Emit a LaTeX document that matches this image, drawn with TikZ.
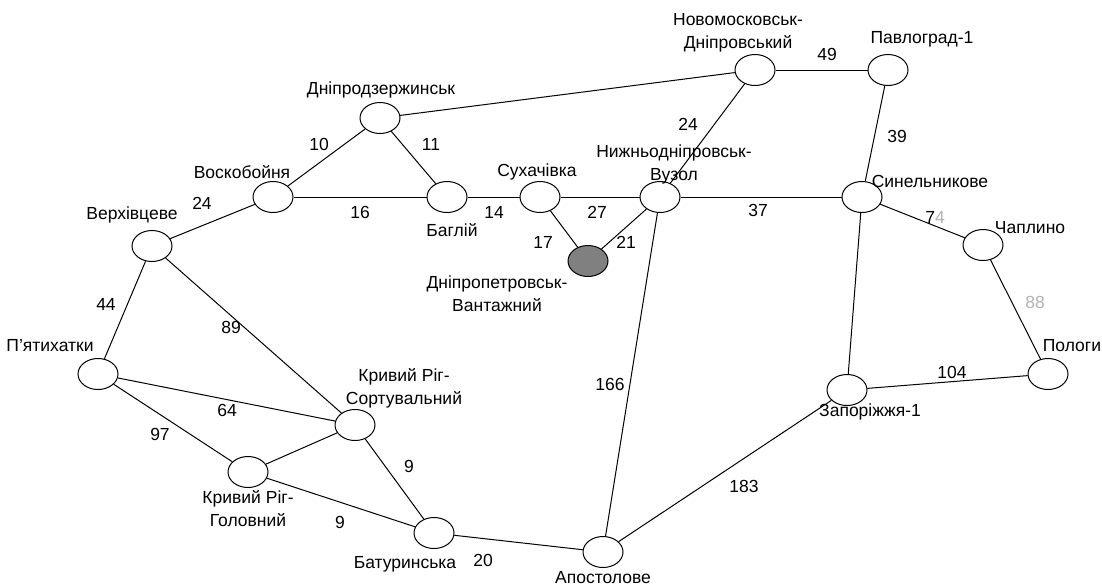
\documentclass[tikz,border=0pt]{standalone}
\usepackage{fontspec}
\setmainfont{Liberation Sans}
\usetikzlibrary{shapes.geometric}
\tikzset{
  stn/.style={ellipse, draw, line width=1pt, fill=white, minimum width=40pt, minimum height=31pt, inner sep=0pt},
  cargo/.style={stn, fill=gray},
  lbl/.style={inner sep=0pt, align=center},
  wt/.style={inner sep=0pt},
  rail/.style={line width=1pt}
}
\begin{document}
\begin{tikzpicture}[x=1pt, y=-1pt]
\useasboundingbox (0,0) rectangle (1102,587);
\fontsize{17.5}{23}\selectfont

% stations
\node[stn] (NM) at (755,70) {};
\node[stn] (PV) at (888,70) {};
\node[stn] (DZ) at (380,118) {};
\node[stn] (VS) at (273,197) {};
\node[stn] (BG) at (447,197) {};
\node[stn] (SU) at (540,197) {};
\node[stn] (NV) at (660,197) {};
\node[stn] (SN) at (862,197) {};
\node[stn] (CH) at (983,245) {};
\node[stn] (VR) at (152,246) {};
\node[cargo] (DV) at (588,261) {};
\node[stn] (PY) at (98,374) {};
\node[stn] (PL) at (1048,374) {};
\node[stn] (ZP) at (847,390) {};
\node[stn] (KS) at (355,425) {};
\node[stn] (KG) at (248,472) {};
\node[stn] (BT) at (434,533) {};
\node[stn] (AP) at (603,552) {};

% lines
\draw[rail] (VR) -- (VS);
\draw[rail] (VS) -- (DZ);
\draw[rail] (VS) -- (BG);
\draw[rail] (DZ) -- (BG);
\draw[rail] (DZ) -- (NM);
\draw[rail] (BG) -- (SU);
\draw[rail] (SU) -- (NV);
\draw[rail] (SU) -- (DV);
\draw[rail] (DV) -- (NV);
\draw[rail] (NV) -- (NM);
\draw[rail] (NM) -- (PV);
\draw[rail] (PV) -- (SN);
\draw[rail] (NV) -- (SN);
\draw[rail] (SN) -- (CH);
\draw[rail] (CH) -- (PL);
\draw[rail] (SN) -- (ZP);
\draw[rail] (ZP) -- (PL);
\draw[rail] (ZP) -- (AP);
\draw[rail] (NV) -- (AP);
\draw[rail] (VR) -- (PY);
\draw[rail] (VR) -- (KS);
\draw[rail] (PY) -- (KS);
\draw[rail] (PY) -- (KG);
\draw[rail] (KG) -- (KS);
\draw[rail] (KS) -- (BT);
\draw[rail] (KG) -- (BT);
\draw[rail] (BT) -- (AP);

% names
\node[lbl] (lNM) at (738,33) {Новомосковськ-\\Дніпровський};
\node[lbl] (lPV) at (922,39) {Павлоград-1};
\node[lbl] (lDZ) at (381,90) {Дніпродзержинськ};
\node[lbl] (lVS) at (242,172) {Воскобойня};
\node[lbl] (lVR) at (132,215) {Верхівцеве};
\node[lbl] (lBG) at (452,230) {Баглій};
\node[lbl] (lSU) at (537,172) {Сухачівка};
\node[lbl] (lNV) at (674,164) {Нижньодніпровськ-\\Вузол};
\node[lbl] (lSN) at (930,181) {Синельникове};
\node[lbl] (lCH) at (1030,228) {Чаплино};
\node[lbl] (lPL) at (1072,346) {Пологи};
\node[lbl] (lZP) at (870,412) {Запоріжжя-1};
\node[lbl] (lDV) at (497,294) {Дніпропетровськ-\\Вантажний};
\node[lbl] (lPY) at (50,346) {П'ятихатки};
\node[lbl] (lKS) at (404,388) {Кривий Ріг-\\Сортувальний};
\node[lbl] (lKG) at (248,509) {Кривий Ріг-\\Головний};
\node[lbl] (lBT) at (405,564) {Батуринська};
\node[lbl] (lAP) at (603,578) {Апостолове};

% distances
\node[wt] (w49) at (827,54) {49};
\node[wt] (w10) at (319,144) {10};
\node[wt] (w11) at (431,144) {11};
\node[wt] (w16) at (360,212) {16};
\node[wt] (w24a) at (202,203) {24};
\node[wt] (w14) at (494,212) {14};
\node[wt] (w27) at (597,212) {27};
\node[wt] (w17) at (543,242) {17};
\node[wt] (w21) at (626,242) {21};
\node[wt] (w24b) at (688,124) {24};
\node[wt] (w37) at (758,210) {37};
\node[wt] (w39) at (897,136) {39};
\node[wt] (w74) at (935,217) {7{\color{gray!60}4}};
\node[wt] (w88) at (1035,302) {{\color{gray!60}88}};
\node[wt] (w104) at (952,372) {104};
\node[wt] (w44) at (106,304) {44};
\node[wt] (w89) at (231,327) {89};
\node[wt] (w64) at (227,410) {64};
\node[wt] (w97) at (160,434) {97};
\node[wt] (w9a) at (409,466) {9};
\node[wt] (w9b) at (340,522) {9};
\node[wt] (w20) at (483,560) {20};
\node[wt] (w166) at (610,384) {166};
\node[wt] (w183) at (744,486) {183};
\end{tikzpicture}
\end{document}
